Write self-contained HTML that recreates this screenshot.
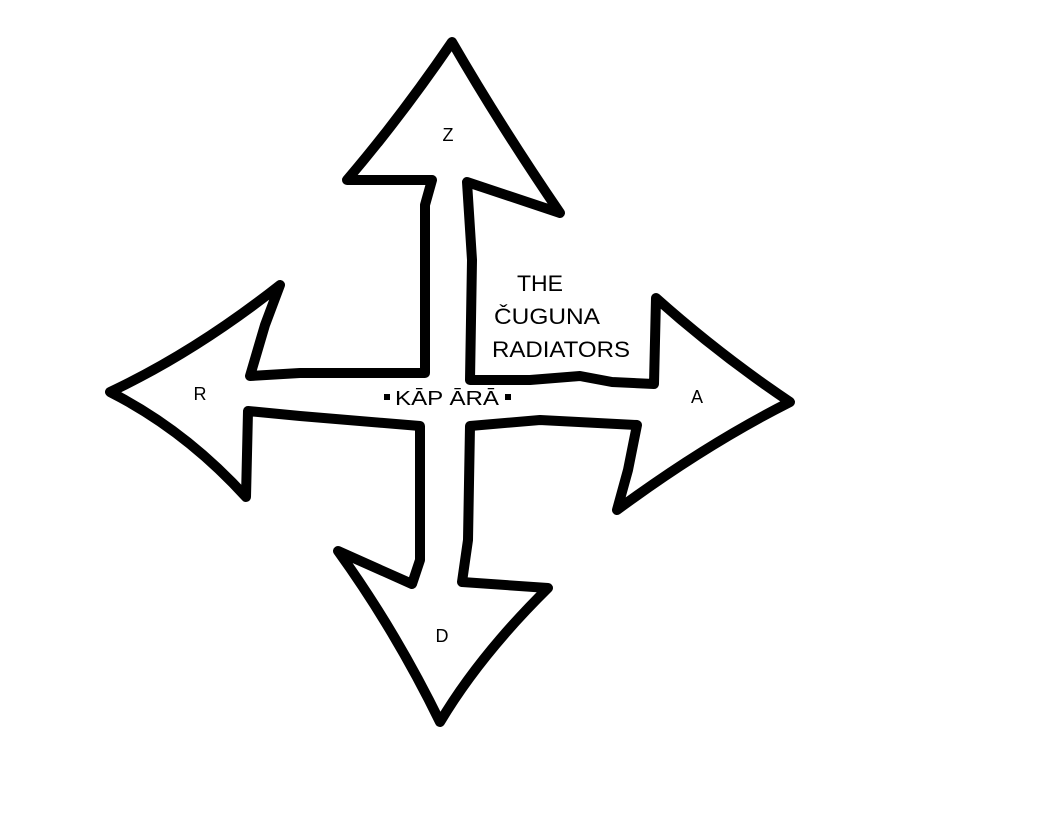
<!DOCTYPE html>
<html><head><meta charset="utf-8"><style>
html,body{margin:0;padding:0;background:#fff;}
svg{display:block}
text{font-family:"Liberation Sans",sans-serif;fill:#000;}
</style></head><body>
<svg width="1050" height="835" viewBox="0 0 1050 835" xmlns="http://www.w3.org/2000/svg">
<rect width="1050" height="835" fill="#fff"/>
<path d="M452,42 Q500,125 560,213 L467,182 L472,260 L470,380 L530,380 L580,376 L612,382 L654,384 L656,298 Q720,355 790,402 Q705,445 617,510 L628,470 L637,425 L540,420 L470,426 L468,540 L462,582 L548,588 Q480,655 440,722 Q395,630 338,551 L412,584 L420,560 L420,426 L300,416 L248,411 L246,497 Q185,430 110,392 Q195,352 280,285 L265,325 L250,376 L300,373 L425,373 L425,205 L432,180 L347,180 Q400,118 452,42 Z"
 fill="#fff" stroke="#000" stroke-width="10" stroke-linejoin="round"/>
<text x="448" y="141" font-size="18" text-anchor="middle">Z</text>
<text x="200" y="400" font-size="18" text-anchor="middle">R</text>
<text x="697" y="403" font-size="18" text-anchor="middle">A</text>
<text x="442" y="642" font-size="18" text-anchor="middle">D</text>
<text x="540" y="291" font-size="22" text-anchor="middle" textLength="46" lengthAdjust="spacingAndGlyphs">THE</text>
<text x="547" y="324" font-size="22" text-anchor="middle" textLength="106" lengthAdjust="spacingAndGlyphs">ČUGUNA</text>
<text x="561" y="357" font-size="22" text-anchor="middle" textLength="138" lengthAdjust="spacingAndGlyphs">RADIATORS</text>
<rect x="384" y="394" width="6" height="6" fill="#000"/>
<text x="447" y="405" font-size="20" text-anchor="middle" textLength="104" lengthAdjust="spacingAndGlyphs">KĀP ĀRĀ</text>
<rect x="505" y="394" width="6" height="6" fill="#000"/>
</svg>
</body></html>
